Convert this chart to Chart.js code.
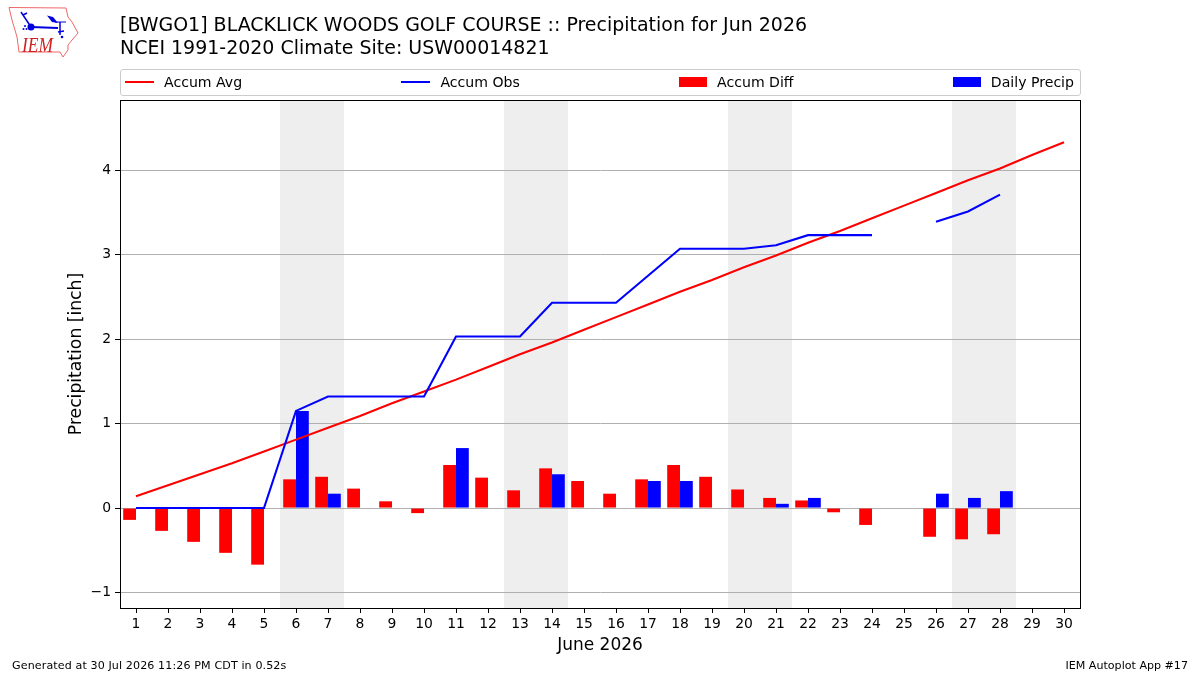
<!DOCTYPE html>
<html>
<head>
<meta charset="utf-8">
<title>BWGO1 Precipitation</title>
<script src="https://cdn.jsdelivr.net/npm/chart.js@4"></script>
<style>
  html, body { margin: 0; padding: 0; background: #fff; }
  body { width: 1200px; height: 675px; position: relative; overflow: hidden; font-family: "DejaVu Sans", sans-serif; color: #000; }
  #chart { position: absolute; left: 0; top: 0; }
  #logo { position: absolute; left: 0; top: 0; }
  .title { position: absolute; left: 120px; font-size: 18.98px; line-height: 23px; white-space: nowrap; }
  #legend { position: absolute; left: 120px; top: 69px; width: 961px; height: 27px; box-sizing: border-box; border: 1px solid #ccc; border-radius: 3px; display: flex; justify-content: space-between; align-items: center; padding: 0 6px 2px 4px; font-size: 14.1px; }
  .item { display: flex; align-items: center; white-space: nowrap; }
  .line { width: 29px; height: 2px; margin-right: 10px; }
  .patch { width: 28px; height: 10px; margin-right: 10px; }
  .foot { position: absolute; top: 659px; font-size: 11.1px; line-height: 13px; white-space: nowrap; }
</style>
</head>
<body>
<canvas id="chart" width="1200" height="675"></canvas>

<svg id="logo" width="90" height="60" viewBox="0 0 90 60">
  <polygon points="9,7.5 66,8 68,17 72,22 78,33 72,40 68,45 68,50 63,57 60,52 19,52 17,37 12,20" fill="none" stroke="#e66" stroke-width="1"/>
  <polyline points="31,27 58,28" fill="none" stroke="#00d" stroke-width="2"/>
  <line x1="60" y1="22" x2="60" y2="35" stroke="#00d" stroke-width="1.5"/>
  <circle cx="31" cy="27" r="3.5" fill="#00d"/>
  <polyline points="31,27 23,15 21,12" fill="none" stroke="#00d" stroke-width="1.5"/>
  <line x1="23" y1="15" x2="27" y2="13" stroke="#00d" stroke-width="1.5"/>
  <polygon points="47,15.5 53,17 58,23 52,22" fill="#00d"/>
  <line x1="55" y1="22" x2="66" y2="22" stroke="#00d" stroke-width="1"/>
  <line x1="58" y1="32" x2="64" y2="31" stroke="#00d" stroke-width="1.5"/>
  <circle cx="23.5" cy="29" r="1" fill="#00d"/><circle cx="26.5" cy="29" r="1" fill="#00d"/><circle cx="25" cy="26" r="1" fill="#00d"/>
  <circle cx="62" cy="37" r="1.3" fill="#00d"/>
  <text x="22" y="52" font-family="Liberation Serif" font-style="italic" font-size="22" textLength="31" lengthAdjust="spacingAndGlyphs" fill="#c22">IEM</text>
</svg>

<div class="title" style="top: 13px">[BWGO1] BLACKLICK WOODS GOLF COURSE :: Precipitation for Jun 2026</div>
<div class="title" style="top: 36px">NCEI 1991-2020 Climate Site: USW00014821</div>
<div id="legend"></div>
<div class="foot" style="left: 12px; letter-spacing: 0.11px">Generated at 30 Jul 2026 11:26 PM CDT in 0.52s</div>
<div class="foot" style="right: 12px">IEM Autoplot App #17</div>

<script>
const days = ['1','2','3','4','5','6','7','8','9','10','11','12','13','14','15','16','17','18','19','20','21','22','23','24','25','26','27','28','29','30'];
const accumAvg = [0.14,0.27,0.40,0.53,0.67,0.81,0.95,1.09,1.24,1.38,1.52,1.67,1.82,1.96,2.11,2.26,2.41,2.56,2.70,2.85,2.99,3.14,3.28,3.43,3.58,3.73,3.88,4.02,4.18,4.33];
const accumObs = [0,0,0,0,0,1.15,1.32,1.32,1.32,1.32,2.03,2.03,2.03,2.43,2.43,2.43,2.75,3.07,3.07,3.07,3.11,3.23,3.23,3.23,null,3.39,3.51,3.71,null,null];
const accumDiff = [-0.14,-0.27,-0.40,-0.53,-0.67,0.34,0.37,0.23,0.08,-0.06,0.51,0.36,0.21,0.47,0.32,0.17,0.34,0.51,0.37,0.22,0.12,0.09,-0.05,-0.20,null,-0.34,-0.37,-0.31,null,null];
const dailyPrecip = [0,0,0,0,0,1.15,0.17,0,0,0,0.71,0,0,0.40,0,0,0.32,0.32,0,0,0.05,0.12,0,0,null,0.17,0.12,0.20,null,null];
const weekendDays = ['6','7','13','14','20','21','27','28'];
const yTicks = [-1,0,1,2,3,4];

// grey bands behind the grid for Saturdays and Sundays
const weekendBands = {
    id: 'weekendBands',
    beforeDraw: function (chart) {
        const ctx = chart.ctx, area = chart.chartArea, x = chart.scales.x;
        const half = (x.getPixelForValue(1) - x.getPixelForValue(0)) / 2;
        ctx.save();
        ctx.fillStyle = '#eeeeee';
        weekendDays.forEach(function (d) {
            const px = x.getPixelForValue(days.indexOf(d));
            ctx.fillRect(px - half, area.top, half * 2, area.bottom - area.top);
        });
        ctx.restore();
    }
};

// full box round the plot, the scales only give left and bottom
const plotFrame = {
    id: 'plotFrame',
    afterDraw: function (chart) {
        const ctx = chart.ctx, a = chart.chartArea;
        ctx.save();
        ctx.strokeStyle = '#000';
        ctx.lineWidth = 1;
        ctx.strokeRect(a.left + 0.5, a.top + 0.5, a.right - a.left, a.bottom - a.top);
        ctx.restore();
    }
};

const tickFont = { family: 'DejaVu Sans', size: 13.9 };

const chart = new Chart(document.getElementById('chart'), {
    type: 'bar',
    data: {
        labels: days,
        datasets: [
            { type: 'line', label: 'Accum Avg', data: accumAvg, borderColor: '#ff0000', borderWidth: 2.1, pointRadius: 0, tension: 0, order: 1 },
            { type: 'line', label: 'Accum Obs', data: accumObs, borderColor: '#0000ff', borderWidth: 2.1, pointRadius: 0, tension: 0, order: 0 },
            { label: 'Accum Diff', data: accumDiff, backgroundColor: '#ff0000', barPercentage: 1, categoryPercentage: 0.8, order: 2 },
            { label: 'Daily Precip', data: dailyPrecip, backgroundColor: '#0000ff', barPercentage: 1, categoryPercentage: 0.8, order: 3 }
        ]
    },
    options: {
        responsive: false,
        animation: false,
        events: [],
        layout: { padding: { left: 66, right: 120, top: 100, bottom: 19 } },
        plugins: { legend: { display: false }, tooltip: { enabled: false } },
        scales: {
            x: {
                grid: { offset: false, drawOnChartArea: false, tickColor: '#000', tickLength: 5, tickWidth: 1 },
                border: { color: '#000' },
                ticks: { color: '#000', font: tickFont, autoSkip: false, maxRotation: 0, padding: 3 },
                title: { display: true, text: 'June 2026', color: '#000', font: { family: 'DejaVu Sans', size: 17 }, padding: 0 },
                afterFit: function (scale) { scale.height = 48; }
            },
            y: {
                min: -1.183,
                max: 4.83,
                afterBuildTicks: function (scale) {
                    scale.ticks = yTicks.map(function (v) { return { value: v }; });
                },
                grid: { color: '#b0b0b0', lineWidth: 1, tickColor: '#000', tickLength: 5 },
                border: { color: '#000' },
                ticks: {
                    color: '#000', font: tickFont, padding: 4,
                    callback: function (v) { return v < 0 ? '\u2212' + Math.abs(v) : String(v); }
                },
                title: { display: true, text: 'Precipitation [inch]', color: '#000', font: { family: 'DejaVu Sans', size: 17.2 }, padding: 0 },
                afterFit: function (scale) { scale.width = 54; }
            }
        }
    },
    plugins: [weekendBands, plotFrame]
});

// legend spread over the plot width, built from the datasets
const legendBox = document.getElementById('legend');
chart.data.datasets.forEach(function (ds) {
    const item = document.createElement('div');
    item.className = 'item';
    const key = document.createElement('span');
    key.className = ds.type === 'line' ? 'line' : 'patch';
    key.style.background = ds.borderColor || ds.backgroundColor;
    item.appendChild(key);
    item.appendChild(document.createTextNode(ds.label));
    legendBox.appendChild(item);
});
</script>
</body>
</html>
